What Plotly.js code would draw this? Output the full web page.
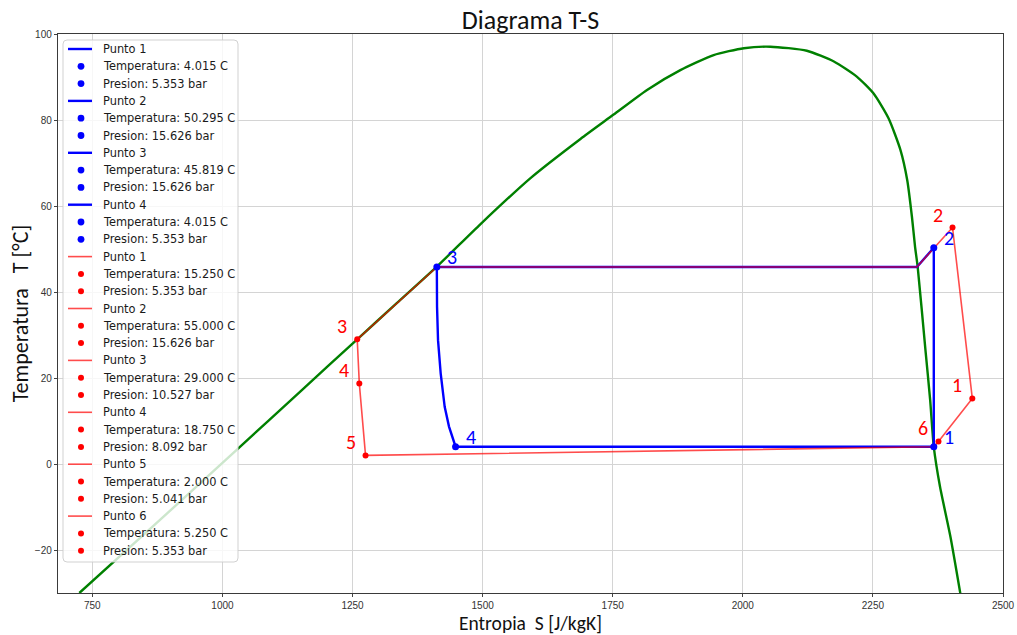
<!DOCTYPE html>
<html><head><meta charset="utf-8">
<script src="https://cdn.plot.ly/plotly-3.0.1.min.js"></script>
<style>html,body{margin:0;padding:0;background:#fff;}#chart{width:1017px;height:635px;}</style>
</head><body><div id="chart"></div>
<script>
// ---- saturation dome ----
const domeS = [725, 880, 1031, 1150, 1259, 1335, 1412, 1496, 1592, 1688, 1751, 1816, 1880, 1944, 2002, 2053, 2123, 2175, 2219, 2251, 2280, 2303, 2316, 2325, 2331, 2336, 2351, 2360, 2367, 2379, 2399, 2418];
const domeT = [-30, -13, 3.7, 16.9, 29.0, 37.4, 45.9, 55.8, 66.5, 75.6, 81.2, 87.0, 91.6, 95.1, 96.7, 97.05, 96.1, 93.6, 90.1, 86.2, 80.4, 73.0, 66.0, 57.5, 50.5, 45.9, 26.5, 14.9, 4.0, -5.3, -16.9, -30.1];

// ---- ideal cycle (blue) ----
const idealNames = ['Punto 1', 'Punto 2', 'Punto 3', 'Punto 4'];
const idealT = [4.015, 50.295, 45.819, 4.015];
const idealP = [5.353, 15.626, 15.626, 5.353];
const idealS = [2367, 2367, 1412, 1448];
const idealPathS = [2367, 2367, 2334.5, 1412, 1412.4, 1414.3, 1419.4, 1427.1, 1435.4, 1448, 2367];
const idealPathT = [4.015, 50.295, 45.819, 45.819, 36.6, 28.8, 21.1, 13.3, 8.7, 4.015, 4.015];

// ---- real cycle (red) ----
const realNames = ['Punto 1', 'Punto 2', 'Punto 3', 'Punto 4', 'Punto 5', 'Punto 6'];
const realT = [15.25, 55.0, 29.0, 18.75, 2.0, 5.25];
const realP = [5.353, 15.626, 10.527, 8.092, 5.041, 5.353];
const realS = [2441, 2403, 1259, 1263, 1275, 2376];
const realPathS = [2441, 2403, 2334.5, 1412, 1259, 1263, 1275, 2367, 2376, 2441];
const realPathT = [15.25, 55.0, 45.819, 45.819, 29.0, 18.75, 2.0, 4.015, 5.25, 15.25];

// ---- axis ticks and titles ----
const xTicks = [750, 1000, 1250, 1500, 1750, 2000, 2250, 2500];
const yTicks = [-20, 0, 20, 40, 60, 80, 100];
const xTitle = 'Entropia\u00a0 S [J/kgK]';
const yTitle = 'Temperatura\u00a0\u00a0 T [°C]';

const BLUE = '#0000ff';
const RED = '#ff0000';
const REDLINE = 'rgba(255,0,0,0.7)';
const titleFont = 'Carlito, "Liberation Sans", Arial, sans-serif';

const traces = [
  {x: domeS, y: domeT, mode: 'lines', line: {color: '#008000', width: 2.4, shape: 'spline', smoothing: 0.6}, hoverinfo: 'skip'},
  {x: idealPathS, y: idealPathT, mode: 'lines', line: {color: BLUE, width: 2.4}},
  {x: realPathS, y: realPathT, mode: 'lines', line: {color: REDLINE, width: 1.6}},
  {x: idealS, y: idealT, mode: 'markers', marker: {color: BLUE, size: 7}},
  {x: realS, y: realT, mode: 'markers', marker: {color: RED, size: 6}}
];

// plot-area pixel geometry for the hand-drawn legend
const PX0 = 58, PX1 = 1003, PY0 = 34, PY1 = 593;
const px = v => (v - PX0) / (PX1 - PX0);
const py = v => (PY1 - v) / (PY1 - PY0);

const annotations = [];
const shapes = [];

// x-axis title placed just below the tick labels
annotations.push({xref: 'paper', yref: 'paper', x: 0.5, y: py(622.5), xanchor: 'center', yanchor: 'middle', showarrow: false,
  borderpad: 0, borderwidth: 0,
  text: xTitle, font: {family: titleFont, size: 19.5, color: '#111'}});

// point number labels
idealS.forEach((s, i) => annotations.push({x: s, y: idealT[i], xref: 'x', yref: 'y', text: String(i + 1), showarrow: false,
  xshift: 15, yshift: 10, font: {family: titleFont, size: 20, color: BLUE}}));
realS.forEach((s, i) => annotations.push({x: s, y: realT[i], xref: 'x', yref: 'y', text: String(i + 1), showarrow: false,
  xshift: -15, yshift: 13, font: {family: titleFont, size: 20, color: RED}}));

// legend box (rounded)
const bx0 = 63, bx1 = 238, by0 = 40, by1 = 562, rr = 4;
const P = (a, b) => px(a) + ',' + py(b);
shapes.push({type: 'path', xref: 'paper', yref: 'paper', layer: 'above',
  path: 'M' + P(bx0 + rr, by0) + ' L' + P(bx1 - rr, by0) + ' Q' + P(bx1, by0) + ' ' + P(bx1, by0 + rr) +
        ' L' + P(bx1, by1 - rr) + ' Q' + P(bx1, by1) + ' ' + P(bx1 - rr, by1) +
        ' L' + P(bx0 + rr, by1) + ' Q' + P(bx0, by1) + ' ' + P(bx0, by1 - rr) +
        ' L' + P(bx0, by0 + rr) + ' Q' + P(bx0, by0) + ' ' + P(bx0 + rr, by0) + ' Z',
  fillcolor: 'rgba(255,255,255,0.8)', line: {color: 'rgba(204,204,204,0.9)', width: 1}});

const entries = [];
idealNames.forEach((n, i) => {
  entries.push({kind: 'line', color: BLUE, w: 2.4, text: n});
  entries.push({kind: 'dot', color: BLUE, r: 3.4, text: 'Temperatura: ' + idealT[i].toFixed(3) + ' C'});
  entries.push({kind: 'dot', color: BLUE, r: 3.4, text: 'Presion: ' + idealP[i].toFixed(3) + ' bar'});
});
realNames.forEach((n, i) => {
  entries.push({kind: 'line', color: REDLINE, w: 1.6, text: n});
  entries.push({kind: 'dot', color: RED, r: 3, text: 'Temperatura: ' + realT[i].toFixed(3) + ' C'});
  entries.push({kind: 'dot', color: RED, r: 3, text: 'Presion: ' + realP[i].toFixed(3) + ' bar'});
});
const ey0 = 49, estep = 17.3;
entries.forEach((e, i) => {
  const yy = ey0 + i * estep;
  if (e.kind === 'line') {
    shapes.push({type: 'line', xref: 'paper', yref: 'paper', layer: 'above', x0: px(68), x1: px(92), y0: py(yy), y1: py(yy),
      line: {color: e.color, width: e.w}});
  } else {
    shapes.push({type: 'circle', xref: 'paper', yref: 'paper', layer: 'above', xsizemode: 'pixel', ysizemode: 'pixel',
      xanchor: px(81), yanchor: py(yy), x0: -e.r, x1: e.r, y0: -e.r, y1: e.r, fillcolor: e.color, line: {width: 0}});
  }
  annotations.push({xref: 'paper', yref: 'paper', x: px(101), y: py(yy), xanchor: 'left', yanchor: 'middle', showarrow: false,
    text: e.text, font: {family: '"DejaVu Sans", sans-serif', size: 11.4, color: '#1a1a1a'}});
});

const axisCommon = {
  showgrid: true, gridcolor: '#d4d4d4', gridwidth: 1, zeroline: false,
  showline: true, mirror: true, linecolor: '#3a3a3a', linewidth: 1.2,
  ticks: 'outside', ticklen: 3, tickcolor: '#444', tickwidth: 1,
  tickfont: {family: '"Liberation Sans Narrow", "Liberation Sans", sans-serif', size: 10, color: '#333'}
};

const layout = {
  width: 1017, height: 635,
  margin: {l: PX0, r: 1017 - PX1, t: PY0, b: 635 - PY1},
  paper_bgcolor: '#fff', plot_bgcolor: '#fff',
  showlegend: false,
  title: {text: 'Diagrama T-S', x: 0.5, xref: 'paper', y: 1 - 20 / 635, yref: 'container', yanchor: 'middle',
    font: {family: titleFont, size: 26, color: '#111'}},
  xaxis: Object.assign({}, axisCommon, {range: [684, 2500], tickvals: xTicks, ticktext: xTicks.map(String)}),
  yaxis: Object.assign({}, axisCommon, {range: [-30, 100], tickvals: yTicks, ticktext: yTicks.map(v => v < 0 ? '\u2212' + Math.abs(v) : String(v)),
    title: {text: yTitle, standoff: 0, font: {family: titleFont, size: 22, color: '#111'}}}),
  annotations: annotations,
  shapes: shapes
};

Plotly.newPlot('chart', traces, layout, {displayModeBar: false, staticPlot: true});
</script>
</body></html>
